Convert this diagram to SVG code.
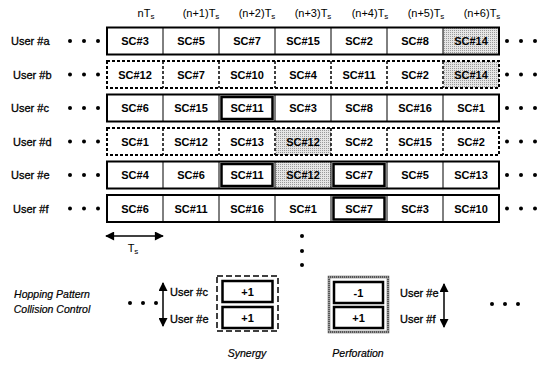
<svg xmlns="http://www.w3.org/2000/svg" width="543" height="366" viewBox="0 0 543 366">
<defs>
<pattern id="stip" width="2" height="2" patternUnits="userSpaceOnUse"><rect width="2" height="2" fill="#e6e6e6"/><rect width="1" height="1" fill="#9a9a9a"/></pattern>
<marker id="ah" viewBox="0 0 10 10" refX="9" refY="5" markerWidth="11" markerHeight="9" markerUnits="userSpaceOnUse" orient="auto-start-reverse"><path d="M0,0 L10,5 L0,10 z" fill="#000"/></marker>
</defs>
<style>
text{font-family:"Liberation Sans",Arial,sans-serif;fill:#000}
.lbl{font-size:11px;stroke:#000;stroke-width:0.3}
.cell{font-size:11px;text-anchor:middle;font-weight:bold}
.hdr{font-size:11px;text-anchor:middle}
.sub{font-size:8px}
.it{font-size:10.5px;font-style:italic;text-anchor:middle;stroke:#000;stroke-width:0.2}
.solid{fill:none;stroke:#000;stroke-width:2}
.dash{fill:none;stroke:#000;stroke-width:2;stroke-dasharray:3 2}
.div{stroke:#000;stroke-width:1}
.ddiv{stroke:#000;stroke-width:1.5;stroke-dasharray:3 2}
.bold{fill:none;stroke:#000;stroke-width:2.5}
.dot{fill:#000}
.conn{stroke:#000;stroke-width:1.5;fill:none}
</style>
<g id="headers">
<text class="hdr" x="146" y="17">nT<tspan class="sub" dy="2">s</tspan></text>
<text class="hdr" x="201" y="17">(n+1)T<tspan class="sub" dy="2">s</tspan></text>
<text class="hdr" x="257" y="17">(n+2)T<tspan class="sub" dy="2">s</tspan></text>
<text class="hdr" x="313" y="17">(n+3)T<tspan class="sub" dy="2">s</tspan></text>
<text class="hdr" x="370" y="17">(n+4)T<tspan class="sub" dy="2">s</tspan></text>
<text class="hdr" x="426" y="17">(n+5)T<tspan class="sub" dy="2">s</tspan></text>
<text class="hdr" x="482" y="17">(n+6)T<tspan class="sub" dy="2">s</tspan></text>
</g>
<g id="row-a">
<text class="lbl" x="11" y="45">User #a</text>
<circle class="dot" cx="70" cy="41" r="2"/><circle class="dot" cx="84" cy="41" r="2"/><circle class="dot" cx="98" cy="41" r="2"/>
<rect x="443" y="27.5" width="56" height="27" fill="url(#stip)"/>
<rect class="solid" x="107" y="27.5" width="392" height="27"/>
<path class="div" d="M163,27.5V54.5M219,27.5V54.5M275,27.5V54.5M331,27.5V54.5M387,27.5V54.5M443,27.5V54.5"/>
<text class="cell" x="135" y="45">SC#3</text><text class="cell" x="191" y="45">SC#5</text><text class="cell" x="247" y="45">SC#7</text><text class="cell" x="303" y="45">SC#15</text><text class="cell" x="359" y="45">SC#2</text><text class="cell" x="415" y="45">SC#8</text><text class="cell" x="471" y="45">SC#14</text>
<circle class="dot" cx="507" cy="41" r="2"/><circle class="dot" cx="521" cy="41" r="2"/><circle class="dot" cx="535" cy="41" r="2"/>
</g>
<g id="row-b">
<text class="lbl" x="13" y="78.5">User #b</text>
<circle class="dot" cx="70" cy="74.5" r="2"/><circle class="dot" cx="84" cy="74.5" r="2"/><circle class="dot" cx="98" cy="74.5" r="2"/>
<rect x="443" y="61" width="56" height="27" fill="url(#stip)"/>
<rect class="dash" x="107" y="61" width="392" height="27"/>
<path class="ddiv" d="M163,61V88M219,61V88M275,61V88M331,61V88M387,61V88M443,61V88"/>
<text class="cell" x="135" y="78.5">SC#12</text><text class="cell" x="191" y="78.5">SC#7</text><text class="cell" x="247" y="78.5">SC#10</text><text class="cell" x="303" y="78.5">SC#4</text><text class="cell" x="359" y="78.5">SC#11</text><text class="cell" x="415" y="78.5">SC#2</text><text class="cell" x="471" y="78.5">SC#14</text>
<circle class="dot" cx="507" cy="74.5" r="2"/><circle class="dot" cx="521" cy="74.5" r="2"/><circle class="dot" cx="535" cy="74.5" r="2"/>
</g>
<g id="row-c">
<text class="lbl" x="11" y="112">User #c</text>
<circle class="dot" cx="70" cy="108" r="2"/><circle class="dot" cx="84" cy="108" r="2"/><circle class="dot" cx="98" cy="108" r="2"/>
<rect class="solid" x="107" y="94.5" width="392" height="27"/>
<path class="div" d="M163,94.5V121.5M219,94.5V121.5M275,94.5V121.5M331,94.5V121.5M387,94.5V121.5M443,94.5V121.5"/>
<rect class="bold" x="221.5" y="97" width="51" height="22"/>
<text class="cell" x="135" y="112">SC#6</text><text class="cell" x="191" y="112">SC#15</text><text class="cell" x="247" y="112">SC#11</text><text class="cell" x="303" y="112">SC#3</text><text class="cell" x="359" y="112">SC#8</text><text class="cell" x="415" y="112">SC#16</text><text class="cell" x="471" y="112">SC#1</text>
<circle class="dot" cx="507" cy="108" r="2"/><circle class="dot" cx="521" cy="108" r="2"/><circle class="dot" cx="535" cy="108" r="2"/>
</g>
<g id="row-d">
<text class="lbl" x="13" y="145.5">User #d</text>
<circle class="dot" cx="70" cy="141.5" r="2"/><circle class="dot" cx="84" cy="141.5" r="2"/><circle class="dot" cx="98" cy="141.5" r="2"/>
<rect x="275" y="128" width="56" height="27" fill="url(#stip)"/>
<rect class="dash" x="107" y="128" width="392" height="27"/>
<path class="ddiv" d="M163,128V155M219,128V155M275,128V155M331,128V155M387,128V155M443,128V155"/>
<text class="cell" x="135" y="145.5">SC#1</text><text class="cell" x="191" y="145.5">SC#12</text><text class="cell" x="247" y="145.5">SC#13</text><text class="cell" x="303" y="145.5">SC#12</text><text class="cell" x="359" y="145.5">SC#2</text><text class="cell" x="415" y="145.5">SC#15</text><text class="cell" x="471" y="145.5">SC#2</text>
<circle class="dot" cx="507" cy="141.5" r="2"/><circle class="dot" cx="521" cy="141.5" r="2"/><circle class="dot" cx="535" cy="141.5" r="2"/>
</g>
<g id="row-e">
<text class="lbl" x="11" y="179">User #e</text>
<circle class="dot" cx="70" cy="175" r="2"/><circle class="dot" cx="84" cy="175" r="2"/><circle class="dot" cx="98" cy="175" r="2"/>
<rect x="275" y="161.5" width="56" height="27" fill="url(#stip)"/>
<rect class="solid" x="107" y="161.5" width="392" height="27"/>
<path class="div" d="M163,161.5V188.5M219,161.5V188.5M275,161.5V188.5M331,161.5V188.5M387,161.5V188.5M443,161.5V188.5"/>
<rect class="bold" x="221.5" y="164" width="51" height="22"/>
<rect class="bold" x="333.5" y="164" width="51" height="22"/>
<text class="cell" x="135" y="179">SC#4</text><text class="cell" x="191" y="179">SC#6</text><text class="cell" x="247" y="179">SC#11</text><text class="cell" x="303" y="179">SC#12</text><text class="cell" x="359" y="179">SC#7</text><text class="cell" x="415" y="179">SC#5</text><text class="cell" x="471" y="179">SC#13</text>
<circle class="dot" cx="507" cy="175" r="2"/><circle class="dot" cx="521" cy="175" r="2"/><circle class="dot" cx="535" cy="175" r="2"/>
</g>
<g id="row-f">
<text class="lbl" x="13" y="212.5">User #f</text>
<circle class="dot" cx="70" cy="208.5" r="2"/><circle class="dot" cx="84" cy="208.5" r="2"/><circle class="dot" cx="98" cy="208.5" r="2"/>
<rect class="solid" x="107" y="195" width="392" height="27"/>
<path class="div" d="M163,195V222M219,195V222M275,195V222M331,195V222M387,195V222M443,195V222"/>
<rect class="bold" x="333.5" y="197.5" width="51" height="22"/>
<text class="cell" x="135" y="212.5">SC#6</text><text class="cell" x="191" y="212.5">SC#11</text><text class="cell" x="247" y="212.5">SC#16</text><text class="cell" x="303" y="212.5">SC#1</text><text class="cell" x="359" y="212.5">SC#7</text><text class="cell" x="415" y="212.5">SC#3</text><text class="cell" x="471" y="212.5">SC#10</text>
<circle class="dot" cx="507" cy="208.5" r="2"/><circle class="dot" cx="521" cy="208.5" r="2"/><circle class="dot" cx="535" cy="208.5" r="2"/>
</g>
<g id="connectors">
<line class="conn" x1="106" y1="236" x2="163" y2="236" stroke-width="2" marker-start="url(#ah)" marker-end="url(#ah)"/>
<line class="conn" x1="163" y1="283" x2="163" y2="326" marker-start="url(#ah)" marker-end="url(#ah)"/>
<line class="conn" x1="444" y1="284" x2="444" y2="327" marker-start="url(#ah)" marker-end="url(#ah)"/>
</g>
<g id="ts-label"><text class="hdr" x="133" y="252">T<tspan class="sub" dy="2">s</tspan></text></g>
<g id="vdots"><circle class="dot" cx="302" cy="236" r="2"/><circle class="dot" cx="302" cy="251" r="2"/><circle class="dot" cx="302" cy="265" r="2"/></g>
<g id="hpcc">
<text class="it" x="52" y="298">Hopping Pattern</text>
<text class="it" x="52" y="313">Collision Control</text>
<circle class="dot" cx="130" cy="303" r="2"/><circle class="dot" cx="143" cy="303" r="2"/><circle class="dot" cx="156" cy="303" r="2"/>
</g>
<g id="synergy">
<text class="lbl" x="170" y="296">User #c</text>
<text class="lbl" x="170" y="323">User #e</text>
<rect x="217" y="276" width="61" height="55" fill="none" stroke="#000" stroke-width="1.5" stroke-dasharray="6 3"/>
<rect class="bold" x="222.5" y="281" width="50" height="21"/>
<rect class="bold" x="222.5" y="307" width="50" height="21"/>
<text class="cell" x="247.5" y="296">+1</text>
<text class="cell" x="247.5" y="322">+1</text>
<text class="it" x="247" y="357">Synergy</text>
</g>
<g id="perforation">
<rect x="329" y="277" width="59" height="55" fill="none" stroke="#555" stroke-width="2.5"/>
<rect x="329" y="277" width="59" height="55" fill="none" stroke="#fff" stroke-width="0.8" stroke-dasharray="1 1"/>
<rect class="bold" x="334" y="282" width="49" height="21"/>
<rect class="bold" x="334" y="307" width="49" height="21"/>
<text class="cell" x="358.5" y="297">-1</text>
<text class="cell" x="358.5" y="322">+1</text>
<text class="lbl" x="400" y="297">User #e</text>
<text class="lbl" x="400" y="323">User #f</text>
<text class="it" x="358" y="357">Perforation</text>
<circle class="dot" cx="492" cy="304" r="2"/><circle class="dot" cx="505" cy="304" r="2"/><circle class="dot" cx="518" cy="304" r="2"/>
</g>
</svg>
